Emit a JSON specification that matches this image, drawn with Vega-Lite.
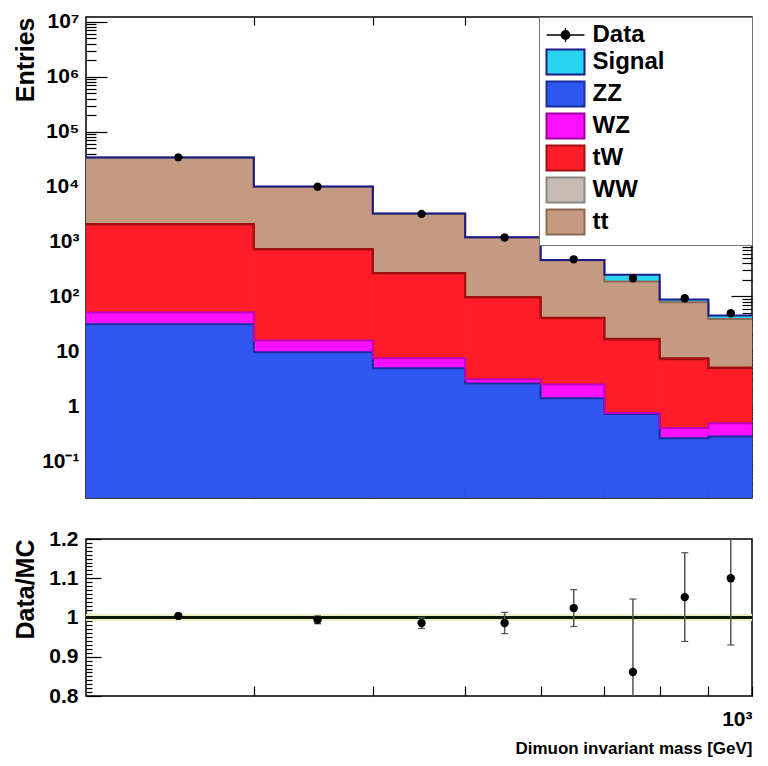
{
  "$schema": "https://vega.github.io/schema/vega-lite/v6.json",
  "background": "white",
  "padding": {"left": 12, "top": 10, "right": 15, "bottom": 4},
  "spacing": 26,
  "config": {
    "font": "Liberation Sans",
    "view": {"stroke": "black", "strokeWidth": 1.5},
    "axis": {
      "domain": false,
      "grid": false,
      "labelFont": "Liberation Sans",
      "labelFontWeight": "bold",
      "labelColor": "black",
      "titleFont": "Liberation Sans",
      "titleFontWeight": "bold",
      "titleColor": "black",
      "tickColor": "black",
      "tickWidth": 1.2,
      "labelOverlap": false
    }
  },
  "datasets": {
    "mc": [
      {"lo": 200, "hi": 300, "process": "ZZ", "n": 31},
      {"lo": 200, "hi": 300, "process": "WZ", "n": 20},
      {"lo": 200, "hi": 300, "process": "tW", "n": 1989},
      {"lo": 200, "hi": 300, "process": "WW", "n": 40},
      {"lo": 200, "hi": 300, "process": "tt", "n": 31820},
      {"lo": 200, "hi": 300, "process": "Signal", "n": 100},
      {"lo": 300, "hi": 400, "process": "ZZ", "n": 9.6},
      {"lo": 300, "hi": 400, "process": "WZ", "n": 6.2},
      {"lo": 300, "hi": 400, "process": "tW", "n": 700},
      {"lo": 300, "hi": 400, "process": "WW", "n": 14},
      {"lo": 300, "hi": 400, "process": "tt", "n": 9270},
      {"lo": 300, "hi": 400, "process": "Signal", "n": 40},
      {"lo": 400, "hi": 500, "process": "ZZ", "n": 4.9},
      {"lo": 400, "hi": 500, "process": "WZ", "n": 2.55},
      {"lo": 400, "hi": 500, "process": "tW", "n": 253.5},
      {"lo": 400, "hi": 500, "process": "WW", "n": 6},
      {"lo": 400, "hi": 500, "process": "tt", "n": 2953},
      {"lo": 400, "hi": 500, "process": "Signal", "n": 20},
      {"lo": 500, "hi": 600, "process": "ZZ", "n": 2.6},
      {"lo": 500, "hi": 600, "process": "WZ", "n": 0.5},
      {"lo": 500, "hi": 600, "process": "tW", "n": 92.9},
      {"lo": 500, "hi": 600, "process": "WW", "n": 2},
      {"lo": 500, "hi": 600, "process": "tt", "n": 1092},
      {"lo": 500, "hi": 600, "process": "Signal", "n": 12},
      {"lo": 600, "hi": 700, "process": "ZZ", "n": 1.4},
      {"lo": 600, "hi": 700, "process": "WZ", "n": 1.1},
      {"lo": 600, "hi": 700, "process": "tW", "n": 37.5},
      {"lo": 600, "hi": 700, "process": "WW", "n": 1},
      {"lo": 600, "hi": 700, "process": "tt", "n": 414},
      {"lo": 600, "hi": 700, "process": "Signal", "n": 8},
      {"lo": 700, "hi": 800, "process": "ZZ", "n": 0.72},
      {"lo": 700, "hi": 800, "process": "WZ", "n": 0.03},
      {"lo": 700, "hi": 800, "process": "tW", "n": 15.75},
      {"lo": 700, "hi": 800, "process": "WW", "n": 0.5},
      {"lo": 700, "hi": 800, "process": "tt", "n": 171},
      {"lo": 700, "hi": 800, "process": "Signal", "n": 61},
      {"lo": 800, "hi": 900, "process": "ZZ", "n": 0.26},
      {"lo": 800, "hi": 900, "process": "WZ", "n": 0.14},
      {"lo": 800, "hi": 900, "process": "tW", "n": 6.8},
      {"lo": 800, "hi": 900, "process": "WW", "n": 0.3},
      {"lo": 800, "hi": 900, "process": "tt", "n": 70.5},
      {"lo": 800, "hi": 900, "process": "Signal", "n": 10},
      {"lo": 900, "hi": 1000, "process": "ZZ", "n": 0.28},
      {"lo": 900, "hi": 1000, "process": "WZ", "n": 0.21},
      {"lo": 900, "hi": 1000, "process": "tW", "n": 4.41},
      {"lo": 900, "hi": 1000, "process": "WW", "n": 0.2},
      {"lo": 900, "hi": 1000, "process": "tt", "n": 33.9},
      {"lo": 900, "hi": 1000, "process": "Signal", "n": 6}
    ],
    "obs": [
      {"xc": 250, "n": 34136, "ratio": 1.004, "err": 0.006},
      {"xc": 350, "n": 9980, "ratio": 0.994, "err": 0.01},
      {"xc": 450, "n": 3195, "ratio": 0.986, "err": 0.014},
      {"xc": 550, "n": 1185, "ratio": 0.986, "err": 0.027},
      {"xc": 650, "n": 474, "ratio": 1.024, "err": 0.047},
      {"xc": 750, "n": 214, "ratio": 0.861, "err": 0.186},
      {"xc": 850, "n": 92.6, "ratio": 1.052, "err": 0.113},
      {"xc": 950, "n": 49.5, "ratio": 1.1, "err": 0.17}
    ]
  },
  "vconcat": [
    {
      "width": 666,
      "height": 481,
      "data": {"name": "mc"},
      "layer": [
        {
          "transform": [
            {"calculate": "indexof(['ZZ','WZ','tW','WW','tt','Signal'], datum.process)", "as": "rank"},
            {"stack": "n", "groupby": ["lo"], "sort": [{"field": "rank"}], "as": ["y0", "y1"]},
            {"calculate": "max(datum.y0, 0.001)", "as": "base"}
          ],
          "mark": {"type": "rect", "clip": true, "strokeWidth": 0.8},
          "encoding": {
            "x": {
              "field": "lo", "type": "quantitative",
              "scale": {"type": "log", "domain": [200, 1000], "nice": false},
              "axis": {"orient": "bottom", "values": [300, 400, 500, 600, 700, 800, 900], "tickSize": -11, "labels": false, "title": null}
            },
            "x2": {"field": "hi"},
            "y": {
              "field": "y1", "type": "quantitative",
              "scale": {"type": "log", "domain": [0.0213, 12300000], "nice": false},
              "axis": {
                "orient": "left",
                "values": [0.03,0.04,0.05,0.06,0.07,0.08,0.09,0.1,0.2,0.3,0.4,0.5,0.6,0.7,0.8,0.9,1,2,3,4,5,6,7,8,9,10,20,30,40,50,60,70,80,90,100,200,300,400,500,600,700,800,900,1000,2000,3000,4000,5000,6000,7000,8000,9000,10000,20000,30000,40000,50000,60000,70000,80000,90000,100000,200000,300000,400000,500000,600000,700000,800000,900000,1000000,2000000,3000000,4000000,5000000,6000000,7000000,8000000,9000000,10000000],
                "tickSize": {"condition": {"test": "abs(log(datum.value)/LN10 - round(log(datum.value)/LN10)) < 0.001", "value": -21}, "value": -10},
                "labelExpr": "datum.value === 0.1 ? '10⁻¹' : datum.value === 1 ? '1' : datum.value === 10 ? '10' : datum.value === 100 ? '10²' : datum.value === 1000 ? '10³' : datum.value === 10000 ? '10⁴' : datum.value === 100000 ? '10⁵' : datum.value === 1000000 ? '10⁶' : datum.value === 10000000 ? '10⁷' : ''",
                "labelOverlap": false,
                "labelFontSize": 21,
                "labelPadding": 28,
                "title": "Entries",
                "titleFontSize": 25,
                "titleAnchor": "end",
                "titleAlign": "right",
                "titleBaseline": "middle",
                "titleX": -61
              }
            },
            "y2": {"field": "base"},
            "fill": {
              "field": "process", "type": "nominal",
              "scale": {
                "domain": ["Data", "Signal", "ZZ", "WZ", "tW", "WW", "tt"],
                "range": ["black", "#2ad4f0", "#2f56ee", "#ff10ff", "#fe1c28", "#c6bcb4", "#c49b80"]
              },
              "legend": {
                "orient": "top-right",
                "offset": 0,
                "title": null,
                "padding": 6,
                "strokeColor": "#777777",
                "fillColor": "white",
                "labelFont": "Liberation Sans",
                "labelFontWeight": "bold",
                "labelFontSize": 24,
                "labelColor": "black",
                "labelOffset": 15,
                "labelLimit": 400,
                "labelExpr": "pad(datum.label, 8, '⠀')",
                "symbolOffset": 8.5,
                "symbolSize": 625,
                "symbolStrokeWidth": 2,
                "symbolOpacity": 1,
                "rowPadding": -2,
                "encode": {
                  "symbols": {
                    "update": {
                      "shape": {"signal": "datum.value === 'Data' ? 'M-1.52,0H1.52M0,-0.56V0.56M-0.34,0A0.34,0.34 0 1,0 0.34,0A0.34,0.34 0 1,0 -0.34,0' : 'M-1.52,-1H1.52V1H-1.52Z'"},
                      "stroke": {"signal": "datum.value === 'Data' ? 'black' : datum.value === 'Signal' ? '#1b1b8a' : datum.value === 'ZZ' ? '#1a2f9e' : datum.value === 'WZ' ? '#a000a0' : datum.value === 'tW' ? '#a01010' : datum.value === 'WW' ? '#8e8680' : '#8d6a55'"},
                      "strokeWidth": {"signal": "datum.value === 'Data' ? 1.3 : 2"}
                    }
                  }
                }
              }
            },
            "stroke": {
              "field": "process", "type": "nominal",
              "scale": {
                "domain": ["Data", "Signal", "ZZ", "WZ", "tW", "WW", "tt"],
                "range": ["black", "#2ad4f0", "#2f56ee", "#ff10ff", "#fe1c28", "#c6bcb4", "#c49b80"]
              },
              "legend": null
            }
          }
        },
        {
          "transform": [
            {"calculate": "indexof(['ZZ','WZ','tW','WW','tt','Signal'], datum.process)", "as": "rank"},
            {"stack": "n", "groupby": ["lo"], "sort": [{"field": "rank"}], "as": ["y0", "y1"]},
            {"fold": ["lo", "hi"], "as": ["edge", "xe"]},
            {"calculate": "datum.xe * 10 + (datum.edge === 'lo' ? 1 : 0)", "as": "seq"}
          ],
          "mark": {"type": "line", "clip": true, "strokeWidth": 2},
          "encoding": {
            "x": {
              "field": "xe", "type": "quantitative",
              "scale": {"type": "log", "domain": [200, 1000], "nice": false},
              "axis": {"orient": "top", "values": [300, 400, 500, 600, 700, 800, 900], "tickSize": -8, "labels": false, "title": null}
            },
            "y": {
              "field": "y1", "type": "quantitative",
              "scale": {"type": "log", "domain": [0.0213, 12300000], "nice": false},
              "axis": {
                "orient": "right",
                "values": [0.03,0.04,0.05,0.06,0.07,0.08,0.09,0.1,0.2,0.3,0.4,0.5,0.6,0.7,0.8,0.9,1,2,3,4,5,6,7,8,9,10,20,30,40,50,60,70,80,90,100,200,300,400,500,600,700,800,900,1000,2000,3000,4000,5000,6000,7000,8000,9000,10000,20000,30000,40000,50000,60000,70000,80000,90000,100000,200000,300000,400000,500000,600000,700000,800000,900000,1000000,2000000,3000000,4000000,5000000,6000000,7000000,8000000,9000000,10000000],
                "tickSize": {"condition": {"test": "abs(log(datum.value)/LN10 - round(log(datum.value)/LN10)) < 0.001", "value": -21}, "value": -10},
                "labels": false,
                "title": null
              }
            },
            "stroke": {
              "field": "process", "type": "nominal",
              "scale": {
                "domain": ["ZZ", "WZ", "tW", "WW", "tt", "Signal"],
                "range": ["#1a2f9e", "#c000c0", "#a01010", "#a01010", "#8d6a55", "#1b1b8a"]
              },
              "legend": null
            },
            "order": {"field": "seq", "type": "quantitative"}
          }
        },
        {
          "data": {"name": "obs"},
          "mark": {"type": "point", "filled": true, "color": "black", "size": 70, "opacity": 1},
          "encoding": {
            "x": {"field": "xc", "type": "quantitative", "scale": {"type": "log", "domain": [200, 1000], "nice": false}, "axis": null},
            "y": {"field": "n", "type": "quantitative", "scale": {"type": "log", "domain": [0.0213, 12300000], "nice": false}, "axis": null}
          }
        }
      ],
      "resolve": {"axis": {"x": "independent", "y": "independent"}, "scale": {"stroke": "independent"}}
    },
    {
      "width": 666,
      "height": 157,
      "data": {"name": "obs"},
      "transform": [
        {"calculate": "datum.ratio - datum.err", "as": "rlo"},
        {"calculate": "datum.ratio + datum.err", "as": "rhi"}
      ],
      "layer": [
        {
          "mark": {"type": "rule", "color": "#eeeec4", "strokeWidth": 6},
          "encoding": {"y": {"datum": 1, "type": "quantitative", "scale": {"domain": [0.8, 1.2], "nice": false}, "axis": null}}
        },
        {
          "mark": {"type": "rule", "color": "#0c1808", "strokeWidth": 3},
          "encoding": {"y": {"datum": 1, "type": "quantitative", "scale": {"domain": [0.8, 1.2], "nice": false}, "axis": null}}
        },
        {
          "mark": {"type": "rule", "clip": true, "color": "#555555", "strokeWidth": 1.5},
          "encoding": {
            "x": {"field": "xc", "type": "quantitative", "scale": {"type": "log", "domain": [200, 1000], "nice": false}, "axis": null},
            "y": {"field": "rlo", "type": "quantitative", "scale": {"domain": [0.8, 1.2], "nice": false}, "axis": null},
            "y2": {"field": "rhi"}
          }
        },
        {
          "transform": [{"fold": ["rlo", "rhi"], "as": ["end", "r"]}],
          "mark": {"type": "tick", "clip": true, "orient": "horizontal", "color": "#555555", "size": 7, "thickness": 1.2, "opacity": 1},
          "encoding": {
            "x": {"field": "xc", "type": "quantitative", "scale": {"type": "log", "domain": [200, 1000], "nice": false}, "axis": null},
            "y": {"field": "r", "type": "quantitative", "scale": {"domain": [0.8, 1.2], "nice": false}, "axis": null}
          }
        },
        {
          "mark": {"type": "point", "filled": true, "color": "black", "size": 70, "opacity": 1},
          "encoding": {
            "x": {
              "field": "xc", "type": "quantitative",
              "scale": {"type": "log", "domain": [200, 1000], "nice": false},
              "axis": {
                "orient": "bottom",
                "values": [300, 400, 500, 600, 700, 800, 900, 1000],
                "tickSize": -10,
                "labelExpr": "datum.value === 1000 ? '10³' : ''",
                "labelOverlap": false,
                "labelFontSize": 21,
                "labelPadding": 22,
                "title": "Dimuon invariant mass [GeV]",
                "titleFontSize": 17,
                "titleAnchor": "end",
                "titleAlign": "right",
                "titleBaseline": "middle",
                "titleX": 666,
                "titleY": 52
              }
            },
            "y": {
              "field": "ratio", "type": "quantitative",
              "scale": {"domain": [0.8, 1.2], "nice": false},
              "axis": {
                "orient": "left",
                "values": [0.8,0.81,0.82,0.83,0.84,0.85,0.86,0.87,0.88,0.89,0.9,0.91,0.92,0.93,0.94,0.95,0.96,0.97,0.98,0.99,1,1.01,1.02,1.03,1.04,1.05,1.06,1.07,1.08,1.09,1.1,1.11,1.12,1.13,1.14,1.15,1.16,1.17,1.18,1.19,1.2],
                "tickSize": {"condition": {"test": "abs(datum.value*10 - round(datum.value*10)) < 0.001", "value": -15}, "value": -6},
                "labelExpr": "abs(datum.value*10 - round(datum.value*10)) < 0.001 ? '' + round(datum.value*10)/10 : ''",
                "labelOverlap": false,
                "labelFontSize": 21,
                "labelPadding": 23,
                "title": "Data/MC",
                "titleFontSize": 25,
                "titleAnchor": "end",
                "titleAlign": "right",
                "titleBaseline": "middle",
                "titleX": -61
              }
            }
          }
        }
      ],
      "resolve": {"axis": {"x": "independent", "y": "independent"}}
    }
  ]
}
